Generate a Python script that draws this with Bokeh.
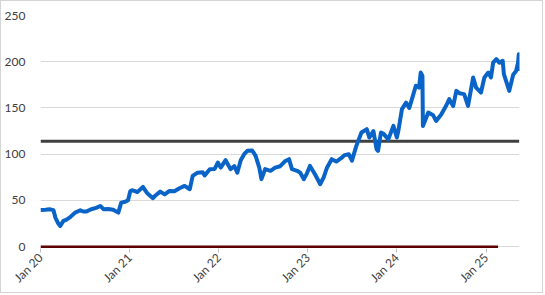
import math
from datetime import datetime
import pandas as pd
from bokeh.plotting import figure
from bokeh.models import Range1d, FixedTicker
from bokeh.embed import file_html
from bokeh.resources import INLINE

# ---- data ----
dates = [
    "2020-01-01", "2020-01-22", "2020-02-07", "2020-02-23", "2020-03-02", "2020-03-14",
    "2020-03-22", "2020-04-04", "2020-04-15", "2020-05-02", "2020-05-22", "2020-06-12",
    "2020-06-24", "2020-07-06", "2020-07-27", "2020-08-16", "2020-09-02", "2020-09-15",
    "2020-10-05", "2020-10-25", "2020-11-15", "2020-11-27", "2020-12-13", "2020-12-25",
    "2021-01-03", "2021-01-10", "2021-01-23", "2021-02-01", "2021-02-24", "2021-03-05",
    "2021-03-15", "2021-04-06", "2021-04-15", "2021-05-06", "2021-05-24", "2021-06-13",
    "2021-07-03", "2021-07-24", "2021-08-14", "2021-09-04", "2021-09-16", "2021-10-06",
    "2021-10-27", "2021-11-04", "2021-11-25", "2021-12-15", "2021-12-28", "2022-01-09",
    "2022-01-29", "2022-02-18", "2022-03-06", "2022-03-18", "2022-04-01", "2022-04-15",
    "2022-04-28", "2022-05-18", "2022-06-01", "2022-06-16", "2022-06-25", "2022-07-10",
    "2022-08-01", "2022-08-20", "2022-09-10", "2022-10-01", "2022-10-16", "2022-10-28",
    "2022-11-18", "2022-12-01", "2022-12-16", "2022-12-28", "2023-01-10", "2023-01-31",
    "2023-02-21", "2023-03-07", "2023-03-20", "2023-04-09", "2023-04-28", "2023-05-19",
    "2023-06-01", "2023-06-18", "2023-07-01", "2023-07-19", "2023-08-09", "2023-08-31",
    "2023-09-10", "2023-09-27", "2023-10-10", "2023-10-16", "2023-10-28", "2023-11-08",
    "2023-11-27", "2023-12-18", "2024-01-01", "2024-01-07", "2024-01-22", "2024-02-08",
    "2024-02-21", "2024-03-03", "2024-03-19", "2024-04-01", "2024-04-08", "2024-04-15",
    "2024-04-17", "2024-05-09", "2024-05-29", "2024-06-10", "2024-07-01", "2024-07-21",
    "2024-08-03", "2024-08-19", "2024-09-01", "2024-09-13", "2024-10-03", "2024-10-19",
    "2024-11-09", "2024-11-21", "2024-12-11", "2024-12-25", "2025-01-10", "2025-01-21",
    "2025-01-30", "2025-02-12", "2025-02-24", "2025-03-10", "2025-03-15", "2025-04-06",
    "2025-04-22", "2025-05-04", "2025-05-12", "2025-05-15", "2025-05-17",
]
price = [
    39.7, 40.0, 40.5, 39.5, 31.4, 25.0,
    22.4, 27.8, 29.0, 32.0, 36.8, 39.4,
    38.0, 37.9, 40.5, 42.0, 44.0, 40.5,
    40.8, 40.0, 36.8, 47.6, 48.5, 50.2,
    60.0, 61.0, 60.0, 59.0, 64.6, 61.0,
    57.4, 52.4, 55.0, 59.5, 56.5, 60.3,
    60.0, 63.2, 65.7, 62.1, 76.5, 80.0,
    80.5, 77.0, 83.8, 84.0, 91.0, 85.5,
    93.5, 83.8, 87.0, 80.0, 93.5, 100.0,
    103.6, 104.0, 98.2, 85.5, 73.0, 83.8,
    82.0, 85.5, 87.0, 92.7, 94.6, 83.8,
    82.0, 80.0, 73.0, 79.0, 87.3, 78.0,
    67.5, 75.0, 85.0, 94.6, 92.0, 96.0,
    99.0, 100.0, 93.0, 109.0, 123.4, 127.0,
    118.0, 125.0, 105.4, 103.6, 123.4, 122.0,
    116.0, 130.6, 118.0, 125.0, 148.7, 155.8,
    150.0, 159.5, 174.0, 172.0, 188.3, 184.7,
    130.6, 145.0, 142.0, 136.0, 143.0, 152.3,
    159.5, 152.0, 168.5, 166.0, 165.0, 152.3,
    183.0, 172.0, 166.7, 183.0, 188.3, 183.0,
    199.0, 202.8, 199.0, 201.0, 186.6, 168.5,
    186.0, 190.0, 199.0, 208.0, 190.0,
]
level_dates = ["2020-01-01", "2025-05-17"]
level_value = [114.0, 114.0]
zero_dates = ["2020-01-01", "2025-02-19"]
zero_value = [0.0, 0.0]

tick_dates = ["2020-01-01", "2021-01-01", "2022-01-01", "2023-01-01", "2024-01-01", "2025-01-01"]
tick_labels = ["Jan 20", "Jan 21", "Jan 22", "Jan 23", "Jan 24", "Jan 25"]
y_ticks = [0, 50, 100, 150, 200, 250]

# ---- figure ----
x = pd.to_datetime(dates)
tick_ms = [pd.Timestamp(d).value / 1e6 for d in tick_dates]

p = figure(
    width=543, height=293,
    x_axis_type="datetime",
    x_range=Range1d(datetime(2020, 1, 1), datetime(2025, 5, 18)),
    y_range=Range1d(-2, 250),
    output_backend="svg", toolbar_location=None,
    min_border_left=36, min_border_right=25, min_border_top=14, min_border_bottom=46,
)
p.styles = {"border": "1px solid #d4d4d4"}
p.outline_line_color = None
p.background_fill_color = "white"
p.border_fill_color = "white"

p.xgrid.grid_line_color = None
p.ygrid.grid_line_color = "#d9d9d9"
p.ygrid.grid_line_width = 1

font = "Lato"
p.yaxis.ticker = FixedTicker(ticks=y_ticks)
p.yaxis.axis_line_color = None
p.yaxis.major_tick_line_color = None
p.yaxis.minor_tick_line_color = None
p.yaxis.major_label_standoff = 9
p.yaxis.major_label_text_font = font
p.yaxis.major_label_text_font_size = "12px"
p.yaxis.major_label_text_color = "#404040"

p.xaxis.ticker = FixedTicker(ticks=tick_ms)
p.xaxis.major_label_overrides = {t: l for t, l in zip(tick_ms, tick_labels)}
p.xaxis.major_label_orientation = math.pi / 4
p.xaxis.axis_line_color = None
p.xaxis.major_tick_line_color = "#bfbfbf"
p.xaxis.major_tick_out = 4
p.xaxis.major_tick_in = 0
p.xaxis.minor_tick_line_color = None
p.xaxis.major_label_standoff = 3
p.xaxis.major_label_text_font = font
p.xaxis.major_label_text_font_size = "12px"
p.xaxis.major_label_text_color = "#404040"

p.line(pd.to_datetime(level_dates), level_value, line_color="#404040", line_width=3)
p.line(x, price, line_color="#0a64c8", line_width=4, line_join="round")
p.line(pd.to_datetime(zero_dates), zero_value, line_color="#5c0000", line_width=2.5)

open("out.html", "w").write(file_html(p, INLINE))
